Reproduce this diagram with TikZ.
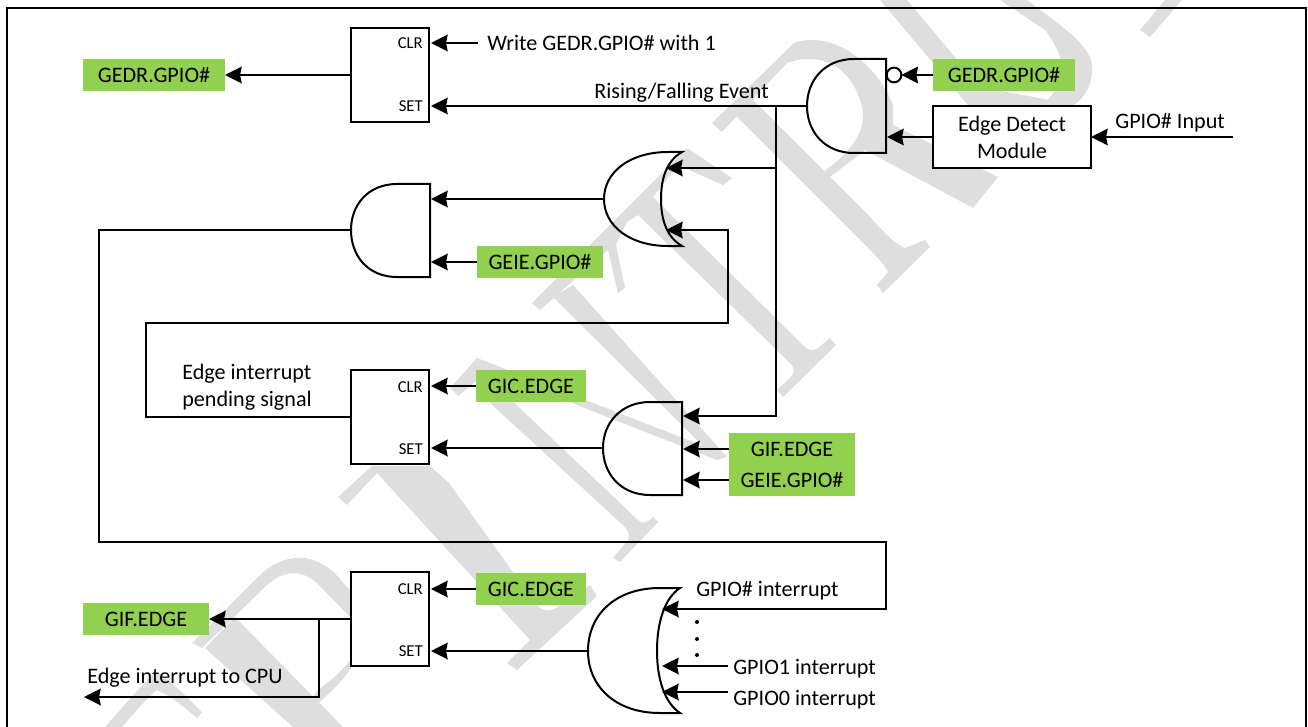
\documentclass[tikz,border=0pt]{standalone}
\usepackage{fontspec}
\setmainfont{Carlito}
\usetikzlibrary{arrows.meta}
\definecolor{wm}{HTML}{DEDEDE}
\definecolor{grn}{HTML}{92D050}
\tikzset{
  wmark/.style={fill=wm,draw=none},
  conn/.style={line width=1.5pt,-{Stealth[length=12.5pt,width=12.5pt,inset=1.2pt]},line join=miter},
  gate/.style={line width=1.5pt,line join=miter},
  ffbox/.style={draw,line width=1.5pt,fill=white,minimum width=58.5pt,minimum height=70.5pt,inner sep=0pt,outer sep=0pt},
  lbl/.style={fill=grn,inner sep=0pt,outer sep=0pt,minimum height=24pt,text height=11pt,text depth=0pt,font=\fontsize{16.6}{18}\selectfont},
  txt/.style={inner sep=0pt,text height=11pt,text depth=0pt,font=\fontsize{16.6}{18}\selectfont},
  ptxt/.style={inner sep=0pt,text height=9pt,text depth=0pt,anchor=east,font=\fontsize{12.5}{14}\selectfont},
  mtxt/.style={inner sep=0pt,font=\fontsize{16.6}{20.25}\selectfont},
  dotn/.style={circle,fill=black,inner sep=0pt,minimum size=3pt}
}
\begin{document}
\begin{tikzpicture}[x=0.75pt,y=-0.75pt]
\useasboundingbox (0,0) rectangle (1308,727);
% watermark
\fill[wmark] (105,727) .. controls (125,705) and (145,680) .. (157,672) .. controls (170,680) and (190,700) .. (202,712) -- (197,718) .. controls (185,708) and (170,695) .. (157,690) .. controls (145,700) and (135,712) .. (122,727) -- cycle;
\fill[wmark] (192,643) -- (262,573) .. controls (290,550) and (320,552) .. (345,585) .. controls (385,625) and (365,670) .. (297,720) -- (318,690) .. controls (352,665) and (372,640) .. (350,617) -- (317,583) .. controls (300,568) and (280,570) .. (262,590) -- (202,648) -- cycle;
\fill[wmark] (235,617) -- (343,727) -- (293,727) -- (205,648) -- cycle;
\fill[wmark] (338,497) -- (372,466) -- (430,466) -- (449,483) -- (533,600) .. controls (540,612) and (550,612) .. (556,608) -- (590,585) -- (597,596) -- (517,670) -- (507,663) -- (530,640) -- (377,473) -- (347,505) -- cycle;
\fill[wmark] (450,388) -- (477,358) -- (727,455) -- (717,460) -- (602,415) -- (515,380) -- (506,395) -- (638,520) .. controls (643,525) and (648,522) .. (653,517) -- (658,522) -- (620,562) -- (613,558) -- (628,540) .. controls (630,535) and (628,530) .. (625,527) -- (490,403) -- (480,378) -- (458,396) -- cycle;
\fill[wmark] (553,297) -- (573,285) -- (727,457) -- (717,460) -- cycle;
\fill[wmark] (532,303) -- (687,148) -- (732,178) -- (723,185) -- (678,165) -- (653,197) -- (805,347) .. controls (810,352) and (815,350) .. (818,348) -- (830,338) -- (836,345) -- (783,397) -- (777,390) -- (790,378) .. controls (795,373) and (795,368) .. (790,363) -- (638,215) -- (627,222) -- (616,245) -- (625,288) -- (618,293) -- (608,250) -- (540,310) -- cycle;
\fill[wmark] (712,123) -- (794,43) .. controls (830,30) and (875,60) .. (893,105) -- (893,125) -- (998,177) -- (973,208) -- (865,150) -- (830,177) -- (823,172) .. controls (855,150) and (870,125) .. (860,100) .. controls (850,70) and (825,50) .. (787,63) -- (722,132) -- cycle;
\fill[wmark] (728,108) -- (745,92) -- (870,217) .. controls (880,228) and (895,245) .. (905,248) -- (925,240) -- (930,247) -- (883,293) -- (877,285) -- (888,272) .. controls (885,265) and (878,258) .. (870,250) -- cycle;
\fill[wmark] (880,0) -- (907,0) -- (980,87) -- (1066,103) -- (1040,150) -- (980,120) -- (933,63) -- cycle;
\fill[wmark] (1000,0) -- (1027,0) .. controls (1060,25) and (1090,45) .. (1092,65) .. controls (1093,85) and (1085,100) .. (1066,110) -- (1040,110) .. controls (1060,85) and (1075,70) .. (1045,30) -- cycle;
\fill[wmark] (1165,0) -- (1182,0) -- (1150,37) -- (1140,30) -- cycle;
% frame
\draw[line width=1.8pt] (7,727) -- (7,8) -- (1306,8) -- (1306,727);
% flip-flops and blocks
\node[ffbox] (ff1) at (390,75) {};
\node[ffbox] (ff2) at (390,417) {};
\node[ffbox] (ff3) at (390,619) {};
\node[draw,line width=1.5pt,fill=white,minimum width=118.5pt,minimum height=46.5pt,inner sep=0pt,outer sep=0pt,align=center,mtxt] (edge) at (1012,137) {Edge Detect\\Module};
\node[ptxt] (c1) at (423,43) {CLR};
\node[ptxt] (s1) at (423,105.5) {SET};
\node[ptxt] (c2) at (423,386) {CLR};
\node[ptxt] (s2) at (423,448) {SET};
\node[ptxt] (c3) at (423,588) {CLR};
\node[ptxt] (s3) at (423,650.5) {SET};
% green labels
\node[lbl,minimum width=106.5pt] (gedrA) at (154,75) {GEDR.GPIO\#};
\node[lbl,minimum width=106.5pt] (gedrB) at (1004,75) {GEDR.GPIO\#};
\node[lbl,minimum width=94.5pt] (geieA) at (540,262) {GEIE.GPIO\#};
\node[lbl,minimum width=82.5pt] (gicA) at (531,386) {GIC.EDGE};
\node[lbl,minimum width=82.5pt] (gicB) at (531,589) {GIC.EDGE};
\node[lbl,minimum width=94.5pt] (gifA) at (146,619) {GIF.EDGE};
\node[lbl,minimum width=94.5pt] (gifB) at (792,449) {GIF.EDGE};
\node[lbl,minimum width=94.5pt,minimum height=23.25pt] (geieB) at (792,480) {GEIE.GPIO\#};
% plain labels
\node[txt,anchor=west] (wr) at (487,43) {Write GEDR.GPIO\# with 1};
\node[txt,anchor=west] (rf) at (594,91) {Rising/Falling Event};
\node[txt,anchor=west] (gi) at (1115,121) {GPIO\# Input};
\node[mtxt,align=left,anchor=west] (pend) at (182,387) {Edge interrupt\\pending signal};
\node[txt,anchor=west] (cpu) at (87,676) {Edge interrupt to CPU};
\node[txt,anchor=west] (gn) at (696,589) {GPIO\# interrupt};
\node[txt,anchor=west] (g1) at (733,667) {GPIO1 interrupt};
\node[txt,anchor=west] (g0) at (733,698) {GPIO0 interrupt};
% gates
\draw[gate] (886,59) -- (854,59) .. controls (825,59) and (807,80) .. (807,106) .. controls (807,132) and (825,153) .. (854,153) -- (886,153) -- cycle;
\draw[gate] (430,184) -- (397,184) .. controls (368,184) and (351,205) .. (351,230) .. controls (351,256) and (368,277) .. (397,277) -- (430,277) -- cycle;
\draw[gate] (682,402) -- (650,402) .. controls (621,402) and (603,423) .. (603,448) .. controls (603,474) and (621,495) .. (650,495) -- (682,495) -- cycle;
\draw[gate] (682,152) -- (668,152) .. controls (630,152) and (604,172) .. (604,199) .. controls (604,226) and (630,246) .. (668,246) -- (682,246) .. controls (668,238) and (661,222) .. (661,199) .. controls (661,176) and (668,160) .. (682,152) -- cycle;
\draw[gate] (680,588) -- (660,588) .. controls (615,588) and (588,615) .. (588,651) .. controls (588,686) and (615,713) .. (660,713) -- (680,713) .. controls (665,703) and (657,680) .. (657,651) .. controls (657,621) and (665,598) .. (680,588) -- cycle;
\node[circle,draw,line width=1.5pt,fill=white,minimum size=11pt,inner sep=0pt,outer sep=0pt] (bub) at (894,75) {};
% ports
\coordinate (f1c) at (431,43);
\coordinate (f1s) at (431,106);
\coordinate (f2c) at (431,386);
\coordinate (f2s) at (431,448);
\coordinate (f3c) at (431,589);
\coordinate (f3s) at (431,651);
\coordinate (a1o) at (807,106);
\coordinate (a1b) at (887,137);
\coordinate (a2o) at (351,230);
\coordinate (a2a) at (431,199);
\coordinate (a2b) at (431,262);
\coordinate (a3o) at (603,448);
\coordinate (a3a) at (683,416);
\coordinate (a3b) at (683,449);
\coordinate (a3c) at (683,480);
\coordinate (o1o) at (604,199);
\coordinate (o1a) at (666,168);
\coordinate (o1b) at (666,230);
\coordinate (o2o) at (588,651);
\coordinate (o2a) at (662,609);
\coordinate (o2b) at (662,666);
\coordinate (o2c) at (662,692);
\coordinate (wrt) at (478,43);
\coordinate (inp) at (1233,137);
\coordinate (cpuo) at (84,697);
\coordinate (g1t) at (728,666);
\coordinate (g0t) at (728,692);
\coordinate (jn1) at (776,106);
\coordinate (jn2) at (776,168);
\coordinate (jn3) at (319,619);
% connectors
\draw[conn] (ff1.west) -- (gedrA.east);
\draw[conn] (wrt) -- (f1c);
\draw[conn] (a1o) -- (f1s);
\draw[conn] (gedrB.west) -- (bub.east);
\draw[conn] (edge.west) -- (a1b);
\draw[conn] (inp) -- (edge.east);
\draw[conn] (jn1) -- (jn1 |- a3a) -- (a3a);
\draw[conn] (jn2) -- (o1a);
\draw[conn] (ff2.west) -- (146,417) -- (146,323) -- (728,323) -- (728,230) -- (o1b);
\draw[conn] (o1o) -- (a2a);
\draw[conn] (geieA.west) -- (a2b);
\draw[conn] (a2o) -- (99,230) -- (99,542) -- (886,542) -- (886,609) -- (o2a);
\draw[conn] (gicA.west) -- (f2c);
\draw[conn] (gicB.west) -- (f3c);
\draw[conn] (a3o) -- (f2s);
\draw[conn] (gifB.west) -- (a3b);
\draw[conn] (geieB.west) -- (a3c);
\draw[conn] (o2o) -- (f3s);
\draw[conn] (ff3.west) -- (gifA.east);
\draw[conn] (jn3) -- (jn3 |- cpuo) -- (cpuo);
\draw[conn] (g1t) -- (o2b);
\draw[conn] (g0t) -- (o2c);
\node[dotn] (d1) at (697,622) {};
\node[dotn] (d2) at (697,639) {};
\node[dotn] (d3) at (697,655) {};
\end{tikzpicture}
\end{document}
